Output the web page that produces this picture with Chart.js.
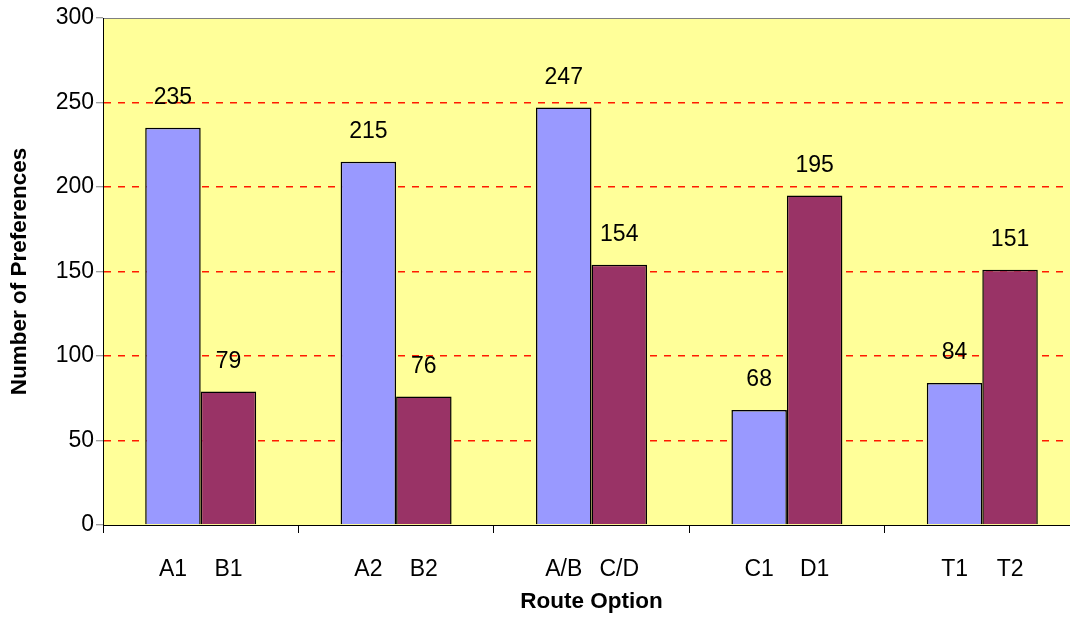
<!DOCTYPE html>
<html>
<head>
<meta charset="utf-8">
<script src="https://cdn.jsdelivr.net/npm/chart.js@4"></script>
<style>
  html, body { margin: 0; padding: 0; background: #fff; overflow: hidden; }
</style>
</head>
<body>
<canvas id="routes" width="1080" height="619"></canvas>
<script>
// route preference counts, two options per pair
const pairs = ['A', 'B', 'C', 'D', 'E'];
const firstOptions = ['A1', 'A2', 'A/B', 'C1', 'T1'];
const secondOptions = ['B1', 'B2', 'C/D', 'D1', 'T2'];
const firstValues = [235, 215, 247, 68, 84];
const secondValues = [79, 76, 154, 195, 151];
const yMin = 0, yMax = 300, yStep = 50;

const FONT = '"Liberation Sans", Arial, sans-serif';

// yellow plot area with grey frame
const plotBackground = {
    id: 'plotBackground',
    beforeDraw(chart) {
        const { ctx, chartArea: a } = chart;
        ctx.save();
        ctx.fillStyle = '#FFFF99';
        ctx.fillRect(a.left, a.top, a.width, a.height);
        ctx.strokeStyle = '#808080';
        ctx.lineWidth = 1;
        ctx.strokeRect(a.left + 0.5, a.top + 0.5, a.width, a.height);
        ctx.restore();
    }
};

// value above each bar, option name under each bar
const barText = {
    id: 'barText',
    afterDatasetsDraw(chart) {
        const { ctx } = chart;
        const names = [firstOptions, secondOptions];
        ctx.save();
        ctx.font = '23px ' + FONT;
        ctx.fillStyle = '#000';
        ctx.textAlign = 'center';
        ctx.textBaseline = 'middle';
        chart.data.datasets.forEach((ds, i) => {
            chart.getDatasetMeta(i).data.forEach((bar, j) => {
                ctx.fillText(String(ds.data[j]), bar.x, bar.y - 30);
                ctx.fillText(names[i][j], bar.x, chart.chartArea.bottom + 45);
            });
        });
        ctx.restore();
    }
};

new Chart('routes', {
    type: 'bar',
    data: {
        labels: pairs,
        datasets: [{
            data: firstValues,
            backgroundColor: '#9999FF',
            borderColor: '#000',
            borderWidth: 1.5
        }, {
            data: secondValues,
            backgroundColor: '#993366',
            borderColor: '#000',
            borderWidth: 1.5
        }]
    },
    options: {
        responsive: false,
        animation: false,
        categoryPercentage: 0.568,
        barPercentage: 1.0,
        layout: { padding: { top: 18, right: 0, left: 0, bottom: 0 } },
        plugins: {
            legend: { display: false },
            tooltip: { enabled: false }
        },
        scales: {
            x: {
                afterFit(scale) { scale.height = 94; },
                ticks: { callback: () => '' },
                grid: {
                    offset: true,
                    drawOnChartArea: false,
                    tickLength: 8,
                    tickColor: '#000'
                },
                border: { color: '#000', width: 1 },
                title: {
                    display: true,
                    text: 'Route Option',
                    color: '#000',
                    font: { family: FONT, size: 22.5, weight: 'bold' },
                    padding: { top: 0, bottom: 4 }
                }
            },
            y: {
                min: yMin,
                max: yMax,
                afterFit(scale) { scale.width = 103; },
                ticks: {
                    stepSize: yStep,
                    color: '#000',
                    padding: 2,
                    font: { family: FONT, size: 23 }
                },
                grid: {
                    color: ctx => (ctx.tick && (ctx.tick.value === yMin || ctx.tick.value === yMax)) ? 'rgba(0,0,0,0)' : '#FF1A00',
                    lineWidth: 1.5,
                    tickLength: 7,
                    tickColor: '#808080',
                    tickWidth: 1,
                    tickBorderDash: []
                },
                border: { color: '#000', width: 1, dash: [7, 7] },
                title: {
                    display: true,
                    text: 'Number of Preferences',
                    color: '#000',
                    font: { family: FONT, size: 22.5, weight: 'bold' },
                    padding: { top: 6, bottom: 0 }
                }
            }
        }
    },
    plugins: [plotBackground, barText]
});
</script>
</body>
</html>
